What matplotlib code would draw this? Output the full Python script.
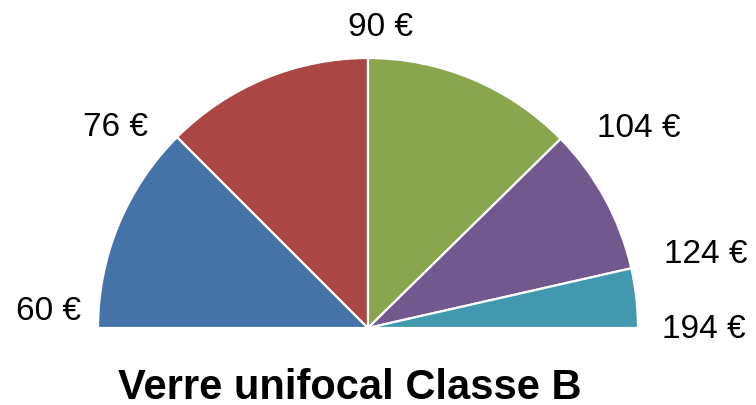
import numpy as np
import matplotlib.pyplot as plt

plt.rcParams['font.family'] = ['Liberation Sans', 'DejaVu Sans']

# share of each price band (percent of the half disc)
shares = [25.0, 25.0, 25.3, 17.6, 7.1]
colors = ["#4673A7", "#AA4643", "#89A54E", "#71588F", "#4198AF"]
# price at each band boundary, from left to right
bound_labels = ["60 €", "76 €", "90 €", "104 €", "124 €", "194 €"]

W, H = 756, 405
fig = plt.figure(figsize=(W / 100, H / 100), dpi=100)
ax = fig.add_axes([0, 0, 1, 1])

cx, cy, R = 368, H - 328, 270
sizes = np.array(shares) / 200.0   # 100 % -> half of the full circle
ax.pie(sizes, colors=colors, startangle=180, counterclock=False,
       normalize=False, center=(cx, cy), radius=R, frame=True,
       wedgeprops=dict(edgecolor="white", linewidth=1.6))
ax.set_xlim(0, W)
ax.set_ylim(0, H)
ax.axis("off")

# boundary labels placed around the rim
angles = 180 - np.concatenate([[0], np.cumsum(shares)]) * 1.8
nudges = [(5, 16), (-14, -6), (13, 8), (21, -5), (11, 9), (2, -1)]
for lab, a, (dx, dy) in zip(bound_labels, angles, nudges):
    r = np.deg2rad(a)
    x = cx + (R + 22) * np.cos(r) + dx
    y = cy + (R + 22) * np.sin(r) + dy
    c = np.cos(r)
    ha = "right" if c < -0.2 else ("left" if c > 0.2 else "center")
    ax.text(x, y, lab, ha=ha, va="center", fontsize=24, color="black")

fig.text(350 / W, 6 / H, "Verre unifocal Classe B", ha="center",
         va="baseline", fontsize=30, fontweight="bold")

fig.savefig("out.png", dpi=100)
